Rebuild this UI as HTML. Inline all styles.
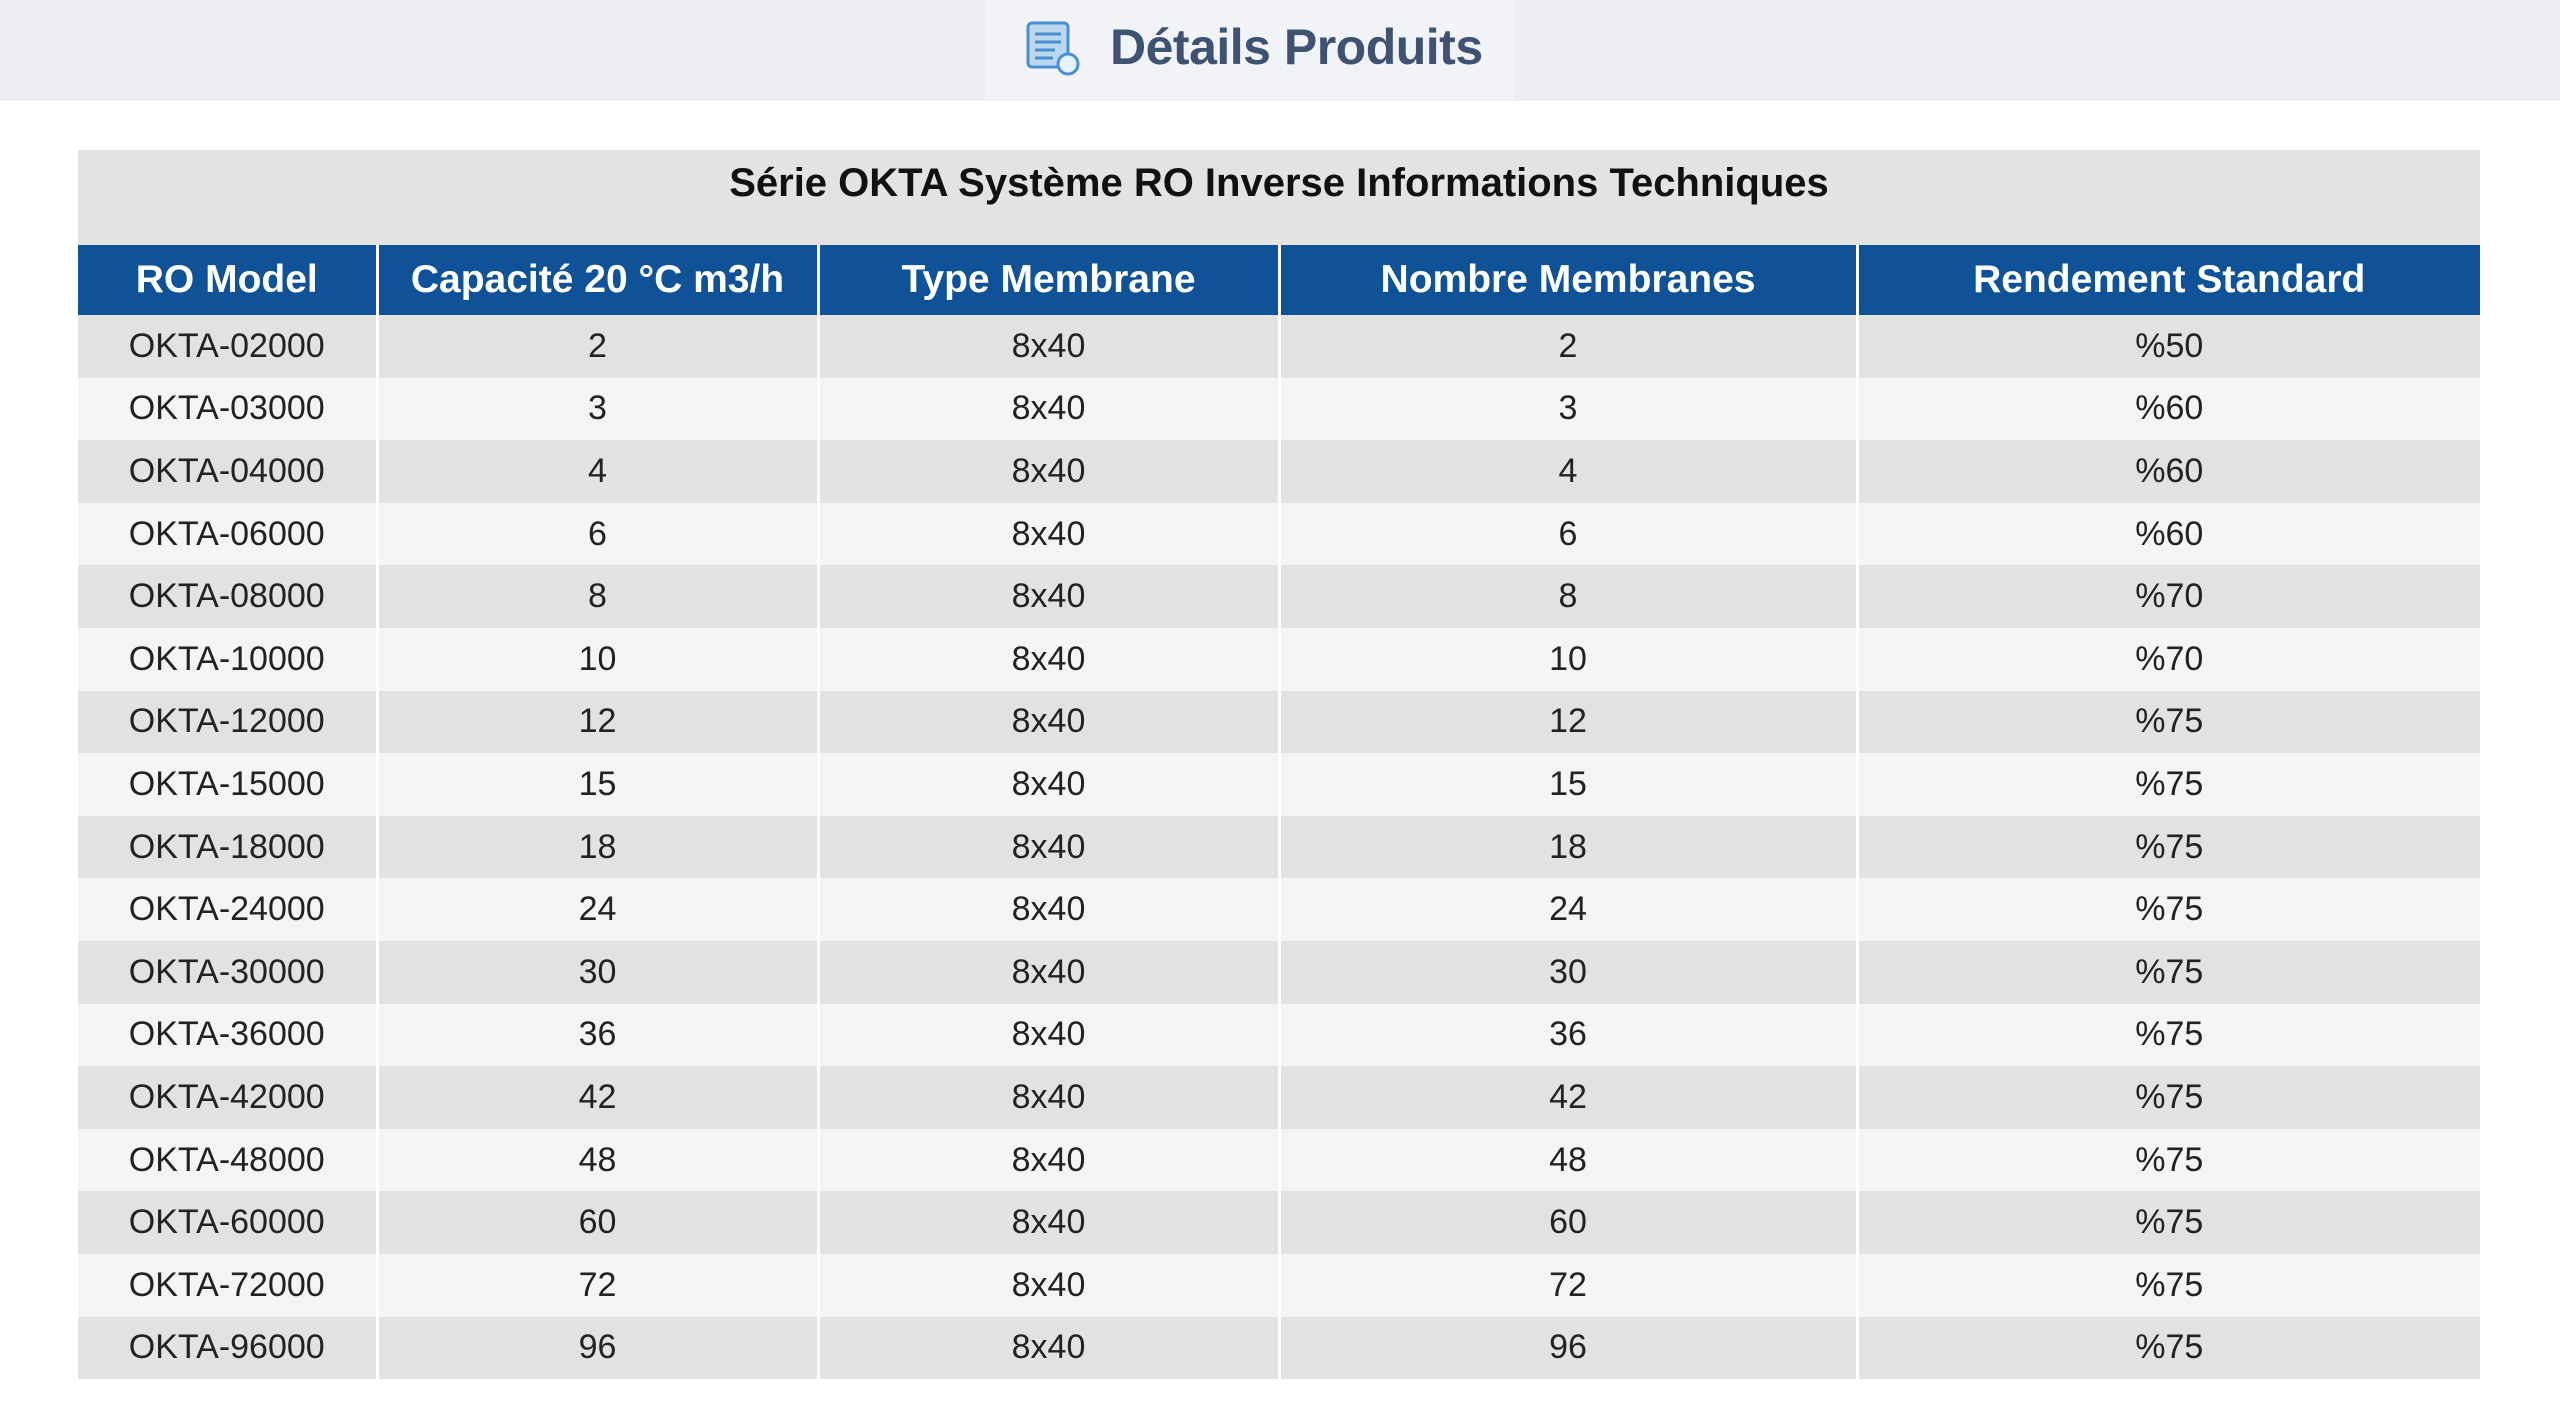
<!DOCTYPE html>
<html><head><meta charset="utf-8"><style>
body{margin:0;width:2560px;height:1428px;background:#fff;font-family:"Liberation Sans",sans-serif;position:relative;overflow:hidden}
.top{position:absolute;left:0;top:0;width:2560px;height:101px;background:#eceef1}
.topc{position:absolute;left:985px;top:0;width:529px;height:101px;background:#f1f3f6}
.ttl{position:absolute;left:1110px;top:18px;font-size:50px;font-weight:bold;color:#3e5272;letter-spacing:-0.5px}
.band{position:absolute;left:78px;top:150px;width:2402px;height:95px;background:#e3e3e3;text-align:center;font-weight:bold;font-size:40px;line-height:66px;color:#111}
table{position:absolute;left:78px;top:245px;width:2402px;border-collapse:collapse;table-layout:fixed}
th{background:#0f5297;color:#fff;font-size:39px;height:70px;padding:0;border-left:3px solid #fff;font-weight:bold}
td{height:62.6px;padding:0;text-align:center;font-size:34px;color:#222;border-left:3px solid #fff}
th:first-child,td:first-child{border-left:none}
tr:nth-child(even) td{background:#e2e2e2}
tr:nth-child(odd) td{background:#f4f4f4}
</style></head><body>
<div class="top"></div><div class="topc"></div>
<svg style="position:absolute;left:1025px;top:20px" width="58" height="58" viewBox="0 0 58 58"><rect x="3" y="3" width="40" height="44" rx="4" fill="#bcd7f0" stroke="#4a8fd0" stroke-width="3"/><g stroke="#4a8fd0" stroke-width="3"><line x1="10" y1="14" x2="36" y2="14"/><line x1="10" y1="22" x2="36" y2="22"/><line x1="10" y1="30" x2="30" y2="30"/><line x1="10" y1="38" x2="28" y2="38"/></g><circle cx="43" cy="44" r="10" fill="#e6f0fa" stroke="#4a8fd0" stroke-width="3"/></svg>
<div class="ttl">Détails Produits</div>
<div class="band">Série OKTA Système RO Inverse Informations Techniques</div>
<table>
<colgroup><col style="width:299px"><col style="width:441px"><col style="width:461px"><col style="width:578px"><col style="width:623px"></colgroup>
<tr><th>RO Model</th><th>Capacité 20 °C m3/h</th><th>Type Membrane</th><th>Nombre Membranes</th><th>Rendement Standard</th></tr>
<tr><td>OKTA-02000</td><td>2</td><td>8x40</td><td>2</td><td>%50</td></tr>
<tr><td>OKTA-03000</td><td>3</td><td>8x40</td><td>3</td><td>%60</td></tr>
<tr><td>OKTA-04000</td><td>4</td><td>8x40</td><td>4</td><td>%60</td></tr>
<tr><td>OKTA-06000</td><td>6</td><td>8x40</td><td>6</td><td>%60</td></tr>
<tr><td>OKTA-08000</td><td>8</td><td>8x40</td><td>8</td><td>%70</td></tr>
<tr><td>OKTA-10000</td><td>10</td><td>8x40</td><td>10</td><td>%70</td></tr>
<tr><td>OKTA-12000</td><td>12</td><td>8x40</td><td>12</td><td>%75</td></tr>
<tr><td>OKTA-15000</td><td>15</td><td>8x40</td><td>15</td><td>%75</td></tr>
<tr><td>OKTA-18000</td><td>18</td><td>8x40</td><td>18</td><td>%75</td></tr>
<tr><td>OKTA-24000</td><td>24</td><td>8x40</td><td>24</td><td>%75</td></tr>
<tr><td>OKTA-30000</td><td>30</td><td>8x40</td><td>30</td><td>%75</td></tr>
<tr><td>OKTA-36000</td><td>36</td><td>8x40</td><td>36</td><td>%75</td></tr>
<tr><td>OKTA-42000</td><td>42</td><td>8x40</td><td>42</td><td>%75</td></tr>
<tr><td>OKTA-48000</td><td>48</td><td>8x40</td><td>48</td><td>%75</td></tr>
<tr><td>OKTA-60000</td><td>60</td><td>8x40</td><td>60</td><td>%75</td></tr>
<tr><td>OKTA-72000</td><td>72</td><td>8x40</td><td>72</td><td>%75</td></tr>
<tr><td>OKTA-96000</td><td>96</td><td>8x40</td><td>96</td><td>%75</td></tr>
</table>
</body></html>
